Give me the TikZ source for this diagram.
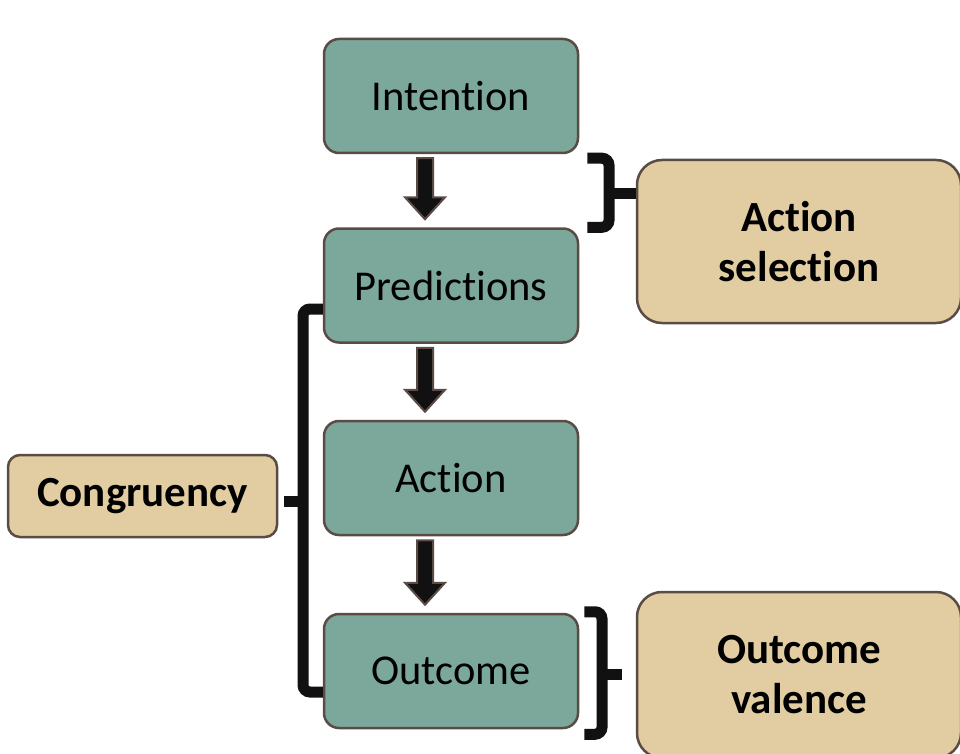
\documentclass[tikz,border=0pt]{standalone}
\usepackage{fontspec}
\setmainfont[Ligatures=NoCommon]{Carlito}
\usetikzlibrary{calc}
\definecolor{stepgreen}{HTML}{7BA89B}
\definecolor{tanfill}{HTML}{E2CDA2}
\definecolor{edgebrown}{HTML}{5B4B45}
\definecolor{inkblack}{HTML}{111111}
\tikzset{
  stage/.style={draw=edgebrown, line width=2.5pt, fill=stepgreen, rounded corners=15pt,
    minimum width=254pt, minimum height=114pt, inner sep=0pt,
    font=\fontsize{42.5}{50}\selectfont, text=black},
  factor/.style={draw=edgebrown, line width=2.5pt, fill=tanfill, inner sep=0pt,
    align=center, font=\fontsize{43}{50}\selectfont\bfseries, text=black},
  bracket/.style={draw=inkblack, line width=11pt, rounded corners=7pt},
  fatarrow/.style={fill=inkblack, draw=edgebrown, line width=2pt, line join=miter}
}
% draws a block arrow from the bottom of #1 to the top of #2
\newcommand{\blockarrow}[2]{%
  \path[fatarrow] ($(#1.south)+(-34,4)$) -- ($(#1.south)+(-18,4)$)
    -- ($(#2.north)+(-18,-30)$) -- ($(#2.north)+(-6,-30)$)
    -- ($(#2.north)+(-26,-8)$) -- ($(#2.north)+(-46,-30)$)
    -- ($(#2.north)+(-34,-30)$) -- cycle;}
\begin{document}
\begin{tikzpicture}[x=1pt,y=-1pt]
\useasboundingbox (0,0) rectangle (960,754);

% main sequence
\node[stage] (intention)   at (451,96)    {Intention};
\node[stage] (predictions) at (451,285.5) {Predictions};
\node[stage] (action)      at (451,478)   {Action};
\node[stage] (outcome)     at (451,671)   {Outcome};

% side factors
\node[factor, rounded corners=25pt, minimum width=324pt, minimum height=163pt]
  (actsel) at (799,241.5) {Action\\selection};
\node[factor, rounded corners=25pt, minimum width=324pt, minimum height=166pt]
  (valence) at (799,675) {Outcome\\valence};
\node[factor, rounded corners=12pt, minimum width=269pt, minimum height=82pt]
  (congruency) at (142.5,496) {Congruency};

% arrows between stages
\blockarrow{intention}{predictions}
\blockarrow{predictions}{action}
\blockarrow{action}{outcome}

% bracket joining intention and predictions to action selection
\coordinate (selmid) at (609,193);
\draw[bracket] ($(intention.south east)+(8,4)$) -| (selmid)
  |- ($(predictions.north east)+(8,0)$);
\draw[bracket, rounded corners=0pt] (selmid) -- (selmid -| actsel.west);

% bracket around the outcome stage
\coordinate (valmid) at (602,674);
\coordinate (valstub) at (622,674);
\draw[bracket] ($(outcome.north east)+(5,-1)$) -| (valmid)
  |- ($(outcome.south east)+(5,5)$);
\draw[bracket, rounded corners=0pt] (valmid) -- (valstub);

% bracket spanning predictions to outcome, linked to congruency
\coordinate (congmid) at (303,501);
\draw[bracket] ($(predictions.west)+(0,23.5)$) -| (congmid)
  |- ($(outcome.west)+(0,21)$);
\draw[bracket, rounded corners=0pt] (congmid) -- ($(congruency.east)+(6,5)$);
\end{tikzpicture}
\end{document}
